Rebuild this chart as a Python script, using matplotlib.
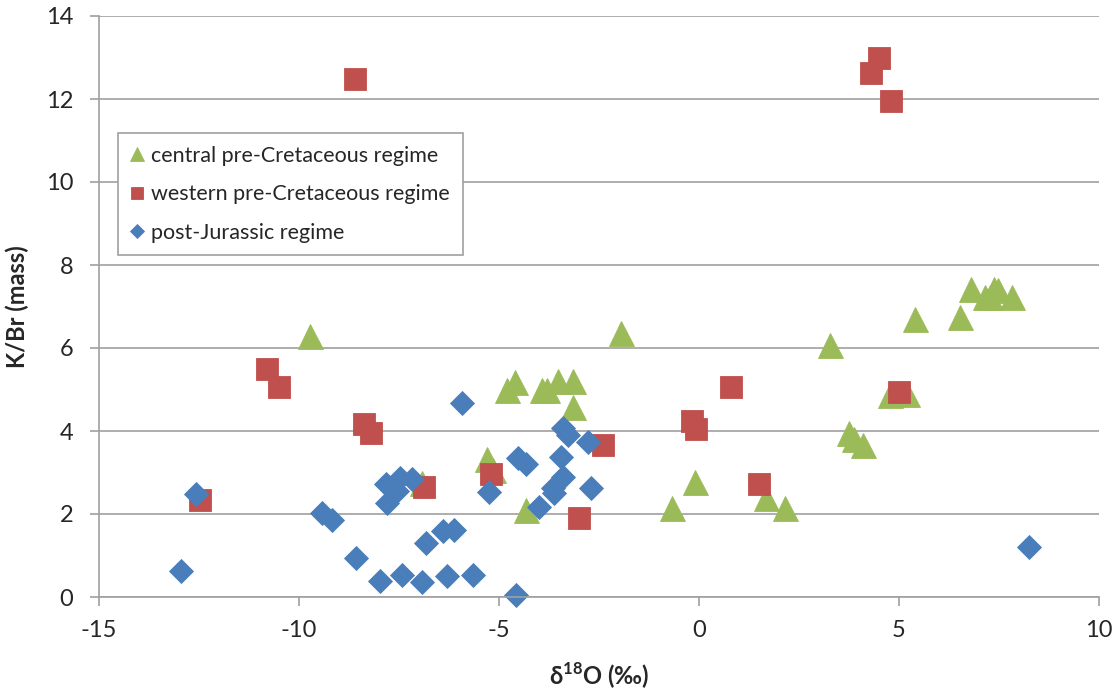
import matplotlib
matplotlib.use("Agg")
import matplotlib.pyplot as plt
from matplotlib.ticker import MultipleLocator

plt.rcParams['font.family'] = ['Lato', 'DejaVu Sans']
plt.rcParams['mathtext.fontset'] = 'custom'
plt.rcParams['mathtext.rm'] = 'Lato'
plt.rcParams['mathtext.bf'] = 'Lato:bold'
plt.rcParams['axes.unicode_minus'] = False

# central pre-Cretaceous regime
central_d18o = [-9.73, -1.95, -4.81, -4.60, -3.93, -3.81, -3.52, -3.14, -3.16,
                -5.31, -5.15, -6.93, -4.33, -0.68, -0.10, 1.67, 2.15, 3.28,
                3.76, 3.88, 4.09, 4.77, 5.19, 5.40, 6.53, 6.80, 7.15, 7.28,
                7.38, 7.48, 7.82]
central_kbr = [6.30, 6.35, 5.00, 5.17, 5.00, 5.00, 5.21, 5.21, 4.57,
               3.33, 3.05, 2.75, 2.10, 2.14, 2.78, 2.38, 2.14, 6.07,
               3.94, 3.80, 3.67, 4.87, 4.90, 6.69, 6.75, 7.41, 7.23, 7.23,
               7.41, 7.40, 7.23]

# western pre-Cretaceous regime
western_d18o = [-8.59, 4.51, 4.30, 4.79, -10.79, -10.49, -8.38, -8.21, -12.48,
                -6.88, -5.20, -2.39, -2.99, -0.18, -0.07, 0.80, 1.50, 5.01]
western_kbr = [12.47, 13.00, 12.63, 11.96, 5.49, 5.05, 4.17, 3.96, 2.34,
               2.64, 2.96, 3.66, 1.90, 4.24, 4.06, 5.05, 2.72, 4.95]

# post-Jurassic regime
post_d18o = [-12.95, -12.58, -9.43, -9.18, -8.58, -7.98, -7.43, -6.93, -6.31,
             -5.65, -6.83, -6.41, -6.13, -5.93, -7.83, -7.48, -7.18, -7.81,
             -7.56, -4.58, -5.25, -4.52, -4.33, -3.40, -3.27, -2.78, -3.45,
             -3.39, -3.64, -3.62, -3.99, -2.70, 8.25]
post_kbr = [0.63, 2.48, 2.02, 1.86, 0.94, 0.39, 0.53, 0.36, 0.50,
            0.53, 1.30, 1.60, 1.61, 4.67, 2.72, 2.87, 2.84, 2.27,
            2.55, 0.05, 2.53, 3.35, 3.20, 4.07, 3.90, 3.74, 3.38,
            2.90, 2.63, 2.50, 2.18, 2.63, 1.21]

GREEN = '#9BBB59'
RED = '#C0504D'
BLUE = '#4A7EBB'
GRID = '#A0A0A0'

fig = plt.figure(figsize=(11.2, 7), dpi=100)
ax = fig.add_axes([99 / 1120, 103 / 700, 1000 / 1120, 581 / 700])

ax.plot(central_d18o, central_kbr, linestyle='none', marker='^', ms=18,
        color=GREEN, mec=GREEN, mew=0.6, clip_on=False,
        label='central pre-Cretaceous regime')
ax.plot(western_d18o, western_kbr, linestyle='none', marker='s', ms=16.5,
        color=RED, mec=RED, mew=0.6, clip_on=False,
        label='western pre-Cretaceous regime')
ax.plot(post_d18o, post_kbr, linestyle='none', marker='D', ms=12.5,
        color=BLUE, mec=BLUE, mew=0.6, clip_on=False,
        label='post-Jurassic regime')

ax.set_xlim(-15, 10)
ax.set_ylim(0, 14)
ax.xaxis.set_major_locator(MultipleLocator(5))
ax.yaxis.set_major_locator(MultipleLocator(2))

ax.grid(axis='y', color=GRID, linewidth=1.2)
ax.set_axisbelow(True)
for side in ('top', 'right'):
    ax.spines[side].set_visible(False)
for side in ('left', 'bottom'):
    ax.spines[side].set_color(GRID)
    ax.spines[side].set_linewidth(1.2)

ax.tick_params(axis='both', direction='out', length=6.5, width=1.2,
               color=GRID, labelsize=17, labelcolor='#262626')
ax.tick_params(axis='y', pad=12)
ax.tick_params(axis='x', pad=10)

ax.set_xlabel(r'δ$^{\mathbf{18}}$O (‰)', fontsize=17, fontweight='bold',
              color='#262626', labelpad=14)
ax.set_ylabel('K/Br (mass)', fontsize=17, fontweight='bold',
              color='#262626', labelpad=12)

leg = ax.legend(loc='upper left', bbox_to_anchor=(0.019, 0.7986),
                borderaxespad=0, fontsize=15.5, markerscale=0.55,
                handlelength=0.6, handletextpad=0.35, labelspacing=0.85,
                borderpad=0.6, fancybox=False, framealpha=1, edgecolor=GRID)
leg.get_frame().set_linewidth(1.2)
for t in leg.get_texts():
    t.set_color('#262626')

fig.savefig('out.png', dpi=100)
